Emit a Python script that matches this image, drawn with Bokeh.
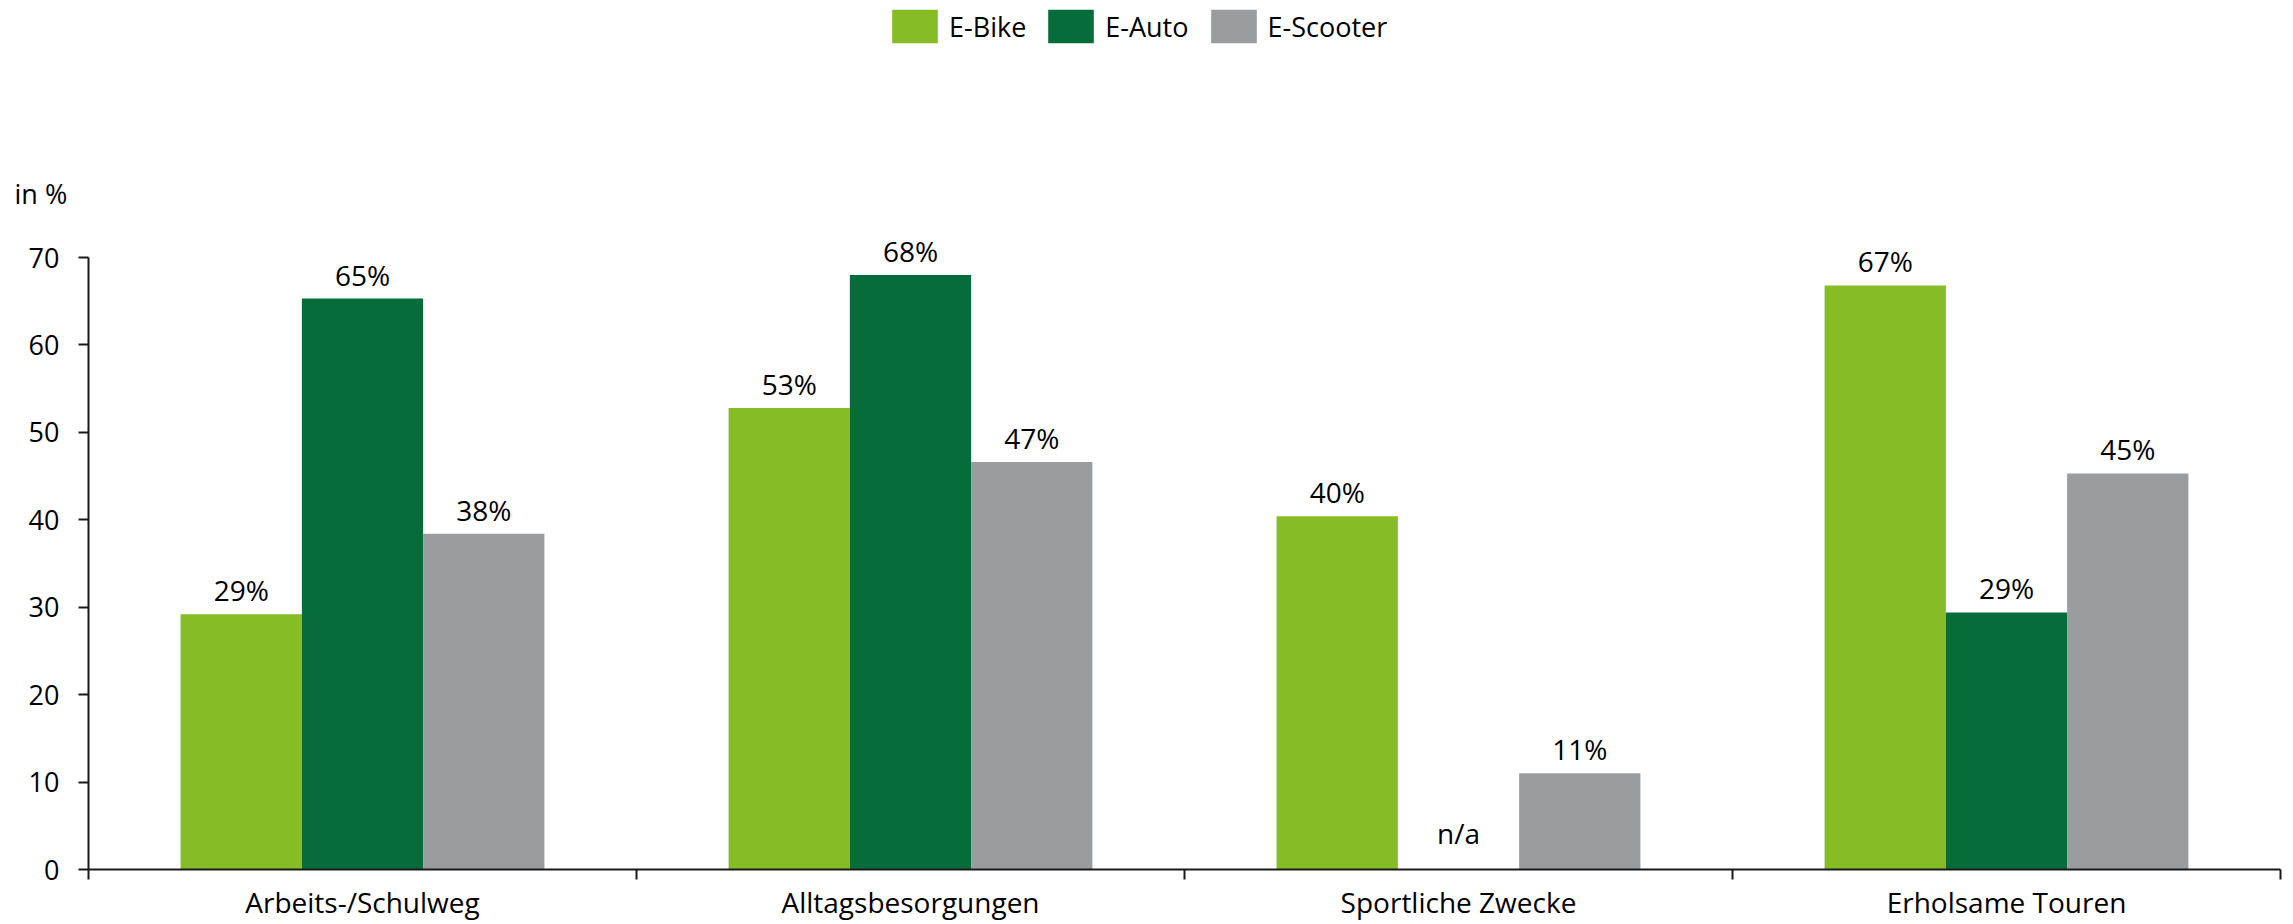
from bokeh.plotting import figure
from bokeh.models import ColumnDataSource, Range1d, FixedTicker, Legend, LegendItem, Label
from bokeh.core.properties import value
from bokeh.embed import file_html
from bokeh.resources import INLINE

# ---- data ----
categories = ["Arbeits-/Schulweg", "Alltagsbesorgungen", "Sportliche Zwecke", "Erholsame Touren"]
series = ["E-Bike", "E-Auto", "E-Scooter"]
e_bike = [29.2, 52.8, 40.4, 66.8]
e_auto = [65.3, 68.0, None, 29.4]
e_scooter = [38.4, 46.6, 11.0, 45.3]
e_bike_labels = ["29%", "53%", "40%", "67%"]
e_auto_labels = ["65%", "68%", "n/a", "29%"]
e_scooter_labels = ["38%", "47%", "11%", "45%"]
y_ticks = [0, 10, 20, 30, 40, 50, 60, 70]
y_max = 70
y_unit = "in %"

# ---- style / layout (pixels) ----
colors = ["#86BC25", "#066C39", "#9B9C9E"]
FONT = "Open Sans"
AXIS_COLOR = "#1a1a1a"
W, H = 2292, 923               # canvas = frame
AX_LEFT, AX_RIGHT = 88, 2280   # x-axis span in px
AX_BOTTOM, AX_TOP = 869, 257   # y=0 and y=70 in px from top

ppx = (AX_RIGHT - AX_LEFT) / len(categories)
ppy = (AX_BOTTOM - AX_TOP) / y_max
x_range = Range1d(-AX_LEFT / ppx, len(categories) + (W - AX_RIGHT) / ppx)
y_range = Range1d(-(H - AX_BOTTOM) / ppy, y_max + AX_TOP / ppy)

p = figure(frame_width=W, frame_height=H, min_border=0,
           x_range=x_range, y_range=y_range,
           output_backend="svg", toolbar_location=None,
           outline_line_color=None, background_fill_color="white", border_fill_color="white")
p.xgrid.visible = False
p.ygrid.visible = False

bar_w = 0.2213
offsets = [-bar_w, 0.0, bar_w]
renderers = []
for vals, labs, col, off in zip([e_bike, e_auto, e_scooter],
                                [e_bike_labels, e_auto_labels, e_scooter_labels],
                                colors, offsets):
    src = ColumnDataSource(dict(
        x=[i + 0.5 + off for i in range(len(categories))],
        top=[v if v is not None else float("nan") for v in vals],
        ly=[v if v is not None else 0 for v in vals],
        dy=[-24 if v is not None else -37 for v in vals],
        label=labs,
    ))
    r = p.vbar(x="x", top="top", bottom=0, width=bar_w, fill_color=col, line_color=None, source=src)
    p.text(x="x", y="ly", text="label", y_offset="dy", source=src,
           text_align="center", text_baseline="alphabetic",
           text_font=value(FONT), text_font_size="28px", text_color="#000000")
    renderers.append(r)

# x axis: drawn at y=0, labels at category centres, tick marks at boundaries
xa = p.xaxis[0]
xa.fixed_location = 0
xa.bounds = (0, len(categories))
xa.ticker = FixedTicker(ticks=[i + 0.5 for i in range(len(categories))],
                        minor_ticks=list(range(len(categories) + 1)))
xa.major_label_overrides = {i + 0.5: c for i, c in enumerate(categories)}
xa.major_tick_line_color = None
xa.major_tick_out = 0
xa.major_tick_in = 0
xa.minor_tick_out = 10
xa.minor_tick_in = 0
xa.minor_tick_line_color = AXIS_COLOR
xa.minor_tick_line_width = 2
xa.axis_line_color = AXIS_COLOR
xa.axis_line_width = 2
xa.major_label_text_font = FONT
xa.major_label_text_font_size = "28px"
xa.major_label_text_color = "#000000"
xa.major_label_standoff = 3

# y axis: drawn at x=0, only from 0 to 70
ya = p.yaxis[0]
ya.fixed_location = 0
ya.bounds = (0, y_max)
ya.ticker = FixedTicker(ticks=y_ticks)
ya.minor_tick_line_color = None
ya.major_tick_out = 10
ya.major_tick_in = 0
ya.major_tick_line_color = AXIS_COLOR
ya.major_tick_line_width = 2
ya.axis_line_color = AXIS_COLOR
ya.axis_line_width = 2
ya.major_label_text_font = FONT
ya.major_label_text_font_size = "27px"
ya.major_label_text_color = "#000000"
ya.major_label_standoff = 19

# unit label above the y axis
p.add_layout(Label(x=(14 - AX_LEFT) / ppx, y=(AX_BOTTOM - 193) / ppy, text=y_unit,
                   text_font=FONT, text_font_size="27px", text_color="#000000",
                   text_baseline="middle", text_align="left"))

# legend (area glyphs are drawn inset by 10% of the glyph box)
legend = Legend(items=[LegendItem(label=s, renderers=[r]) for s, r in zip(series, renderers)],
                orientation="horizontal", location=(886, H - 47),
                glyph_width=57, glyph_height=42, label_height=42, label_standoff=6, spacing=16,
                padding=0, margin=0, background_fill_alpha=0, border_line_alpha=0,
                label_text_font=FONT, label_text_font_size="27px", label_text_color="#000000")
p.add_layout(legend)

open("out.html", "w").write(file_html(p, INLINE))
